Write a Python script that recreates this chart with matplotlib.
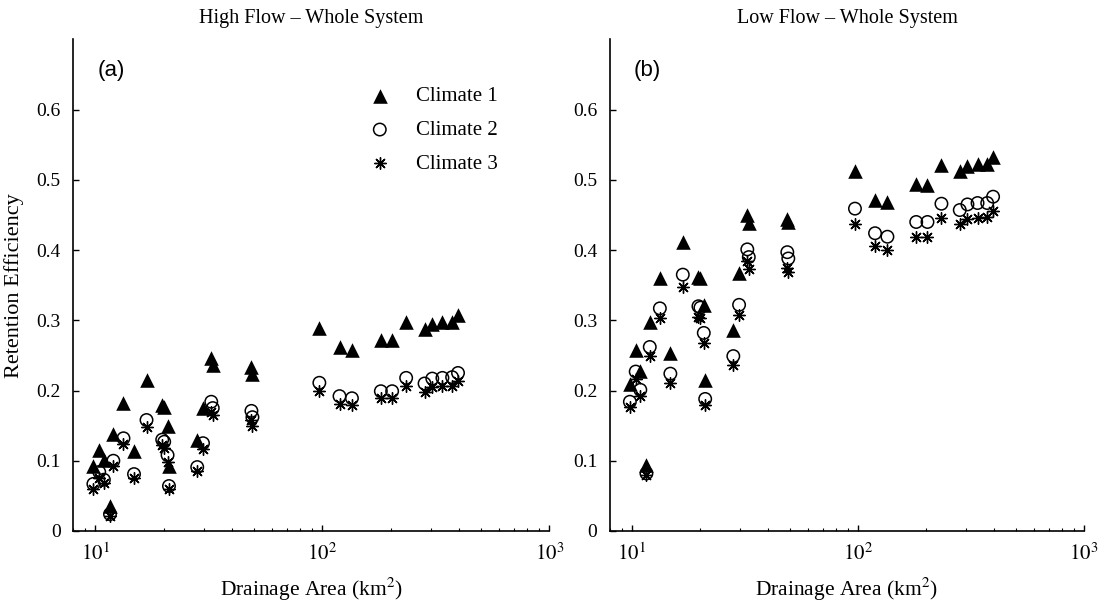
import numpy as np
import matplotlib
matplotlib.use("Agg")
import matplotlib.pyplot as plt
from matplotlib.ticker import FixedLocator, LogLocator, NullFormatter

plt.rcParams['font.family'] = ['Liberation Serif', 'DejaVu Serif']
plt.rcParams['mathtext.fontset'] = 'stix'

# drainage area of each sub-catchment (km2)
area = [9.8, 10.4, 10.9, 11.6, 12.0, 13.3, 14.8, 16.8, 19.7, 20.1, 20.8, 21.1,
        28.1, 29.8, 32.4, 32.9, 48.7, 49.2, 97, 119, 135, 181, 203, 234, 282,
        305, 338, 373, 396]

# high flow retention efficiency
hf_c1 = [0.092, 0.116, 0.101, 0.036, 0.138, 0.182, 0.114, 0.215, 0.180, 0.176,
         0.149, 0.092, 0.129, 0.175, 0.246, 0.236, 0.234, 0.224, 0.289, 0.262,
         0.258, 0.272, 0.272, 0.298, 0.287, 0.295, 0.298, 0.298, 0.307]
hf_c2 = [0.067, 0.084, 0.073, 0.024, 0.100, 0.132, 0.081, 0.158, 0.130, 0.127,
         0.108, 0.064, 0.091, 0.125, 0.184, 0.175, 0.171, 0.162, 0.211, 0.192,
         0.189, 0.199, 0.199, 0.218, 0.210, 0.217, 0.218, 0.219, 0.225]
hf_c3 = [0.060, 0.076, 0.068, 0.022, 0.093, 0.124, 0.076, 0.148, 0.122, 0.118,
         0.098, 0.060, 0.086, 0.117, 0.170, 0.165, 0.158, 0.150, 0.199, 0.181,
         0.179, 0.189, 0.189, 0.206, 0.198, 0.205, 0.206, 0.206, 0.213]

# low flow retention efficiency
lf_c1 = [0.210, 0.258, 0.228, 0.094, 0.298, 0.360, 0.253, 0.411, 0.362, 0.360,
         0.322, 0.215, 0.286, 0.368, 0.450, 0.438, 0.444, 0.440, 0.512, 0.472,
         0.468, 0.494, 0.492, 0.521, 0.512, 0.520, 0.522, 0.522, 0.532]
lf_c2 = [0.184, 0.227, 0.201, 0.082, 0.262, 0.317, 0.224, 0.365, 0.320, 0.318,
         0.282, 0.188, 0.249, 0.322, 0.401, 0.390, 0.397, 0.388, 0.459, 0.424,
         0.419, 0.440, 0.440, 0.466, 0.457, 0.465, 0.467, 0.467, 0.476]
lf_c3 = [0.176, 0.216, 0.192, 0.079, 0.249, 0.303, 0.211, 0.347, 0.305, 0.303,
         0.268, 0.179, 0.236, 0.308, 0.385, 0.373, 0.375, 0.369, 0.437, 0.406,
         0.400, 0.419, 0.419, 0.445, 0.437, 0.444, 0.446, 0.447, 0.455]

yticks = [0, 0.1, 0.2, 0.3, 0.4, 0.5, 0.6]
ytick_labels = ['0', '0.1', '0.2', '0.3', '0.4', '0.5', '0.6']
xticks = [10, 100, 1000]
xtick_labels = ['$10^1$', '$10^2$', '$10^3$']

fig = plt.figure(figsize=(11, 6.06), dpi=100)
ax1 = fig.add_axes([0.0667, 0.1238, 0.4327, 0.8112])
ax2 = fig.add_axes([0.5545, 0.1238, 0.4310, 0.8112])

panels = [(ax1, hf_c1, hf_c2, hf_c3, 'High Flow \u2013 Whole System', '(a)'),
          (ax2, lf_c1, lf_c2, lf_c3, 'Low Flow \u2013 Whole System', '(b)')]

star = (8, 2, 0)  # 8-arm asterisk like matlab '*'

for ax, c1, c2, c3, title, tag in panels:
    ax.scatter(area, c1, marker='^', s=110, color='black', linewidths=0, label='Climate 1')
    ax.scatter(area, c2, marker='o', s=80, facecolors='none', edgecolors='black',
               linewidths=1.1, label='Climate 2')
    ax.scatter(area, c3, marker=star, s=70, color='black', linewidths=1.0, label='Climate 3')

    ax.set_xscale('log')
    ax.set_xlim(8, 1000)
    ax.set_ylim(0, 0.7)
    ax.xaxis.set_major_locator(FixedLocator(xticks))
    ax.set_xticklabels(xtick_labels)
    ax.xaxis.set_minor_locator(LogLocator(base=10, subs=np.arange(2, 10)))
    ax.xaxis.set_minor_formatter(NullFormatter())
    ax.set_yticks(yticks)
    ax.set_yticklabels(ytick_labels)

    ax.spines['top'].set_visible(False)
    ax.spines['right'].set_visible(False)
    ax.spines['left'].set_linewidth(1.2)
    ax.spines['bottom'].set_linewidth(1.2)
    ax.tick_params(which='major', direction='in', length=4, width=1, labelsize=14, pad=9)
    ax.tick_params(which='minor', direction='in', length=2.5, width=0.8)
    ax.tick_params(axis='x', which='major', labelsize=15, pad=9)

    ax.set_title(title, fontsize=14.5, pad=12)
    ax.set_xlabel('Drainage Area (km$^2$)', fontsize=15.5, labelpad=8)
    ax.text(0.05, 0.937, tag, transform=ax.transAxes, fontsize=16, va='center',
            family=['Liberation Sans', 'DejaVu Sans'])

ax1.set_ylabel('Retention Efficiency', fontsize=16, labelpad=9)

ax1.legend(loc='upper left', bbox_to_anchor=(0.6, 0.925), frameon=False,
           fontsize=15, handlelength=1.0, handletextpad=1.25, labelspacing=0.68,
           borderpad=0)

fig.savefig('out.png', dpi=100)
